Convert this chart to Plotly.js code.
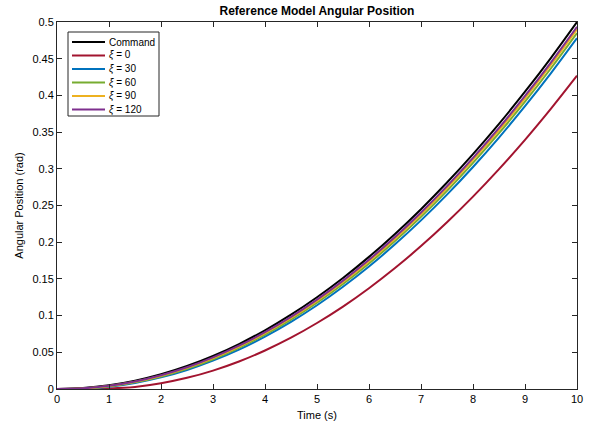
<!DOCTYPE html>
<html>
<head>
<meta charset="utf-8">
<script src="https://cdn.plot.ly/plotly-3.0.1.min.js"></script>
<style>html,body{margin:0;padding:0;background:#fff;}#plot{width:590px;height:425px;}</style>
</head>
<body>
<div id="plot"></div>
<script>
const time = [0,0.5,1,1.5,2,2.5,3,3.5,4,4.5,5,5.5,6,6.5,7,7.5,8,8.5,9,9.5,10];
const command = [0,0.00125,0.005,0.01125,0.02,0.03125,0.045,0.06125,0.08,0.10125,0.125,0.15125,0.18,0.21125,0.245,0.28125,0.32,0.36125,0.405,0.45125,0.5];
const xi0 = [0,0.0002,0.0008,0.0028,0.0078,0.0152,0.0251,0.0375,0.0525,0.0699,0.0899,0.1123,0.1373,0.1648,0.1947,0.2272,0.2621,0.2996,0.3395,0.382,0.4269];
const xi30 = [0,0.0004,0.0030,0.0082,0.0158,0.0259,0.0386,0.0537,0.0714,0.0915,0.1141,0.1393,0.1669,0.1971,0.2297,0.2648,0.3025,0.3426,0.3853,0.4304,0.4780];
const xi60 = [0,0.0006,0.0036,0.0091,0.0171,0.0276,0.0406,0.0561,0.0741,0.0946,0.1176,0.1431,0.1711,0.2015,0.2345,0.2700,0.3080,0.3485,0.3915,0.4370,0.4850];
const xi90 = [0,0.0008,0.0041,0.0098,0.0181,0.0288,0.0421,0.0578,0.0761,0.0968,0.1201,0.1458,0.1741,0.2048,0.2381,0.2738,0.3121,0.3528,0.3961,0.4418,0.4901];
const xi120 = [0,0.0009,0.0044,0.0103,0.0187,0.0296,0.0431,0.0590,0.0774,0.0983,0.1218,0.1477,0.1761,0.2070,0.2405,0.2764,0.3148,0.3557,0.3992,0.4451,0.4935];
const seriesNames = ["Command","<i>ξ</i> = 0","<i>ξ</i> = 30","<i>ξ</i> = 60","<i>ξ</i> = 90","<i>ξ</i> = 120"];
const seriesData = [command, xi0, xi30, xi60, xi90, xi120];
const colors = ["#000000","#A2142F","#0072BD","#77AC30","#EDB120","#7E2F8E"];
const xTicks = [0,1,2,3,4,5,6,7,8,9,10];
const yTicks = [0,0.05,0.1,0.15,0.2,0.25,0.3,0.35,0.4,0.45,0.5];
const yTickText = ["0","0.05","0.1","0.15","0.2","0.25","0.3","0.35","0.4","0.45","0.5"];

const traces = seriesData.map((d,i)=>({
  x: time, y: d, name: seriesNames[i], type:'scatter', mode:'lines', showlegend:false,
  line:{color:colors[i], width:2, shape:'spline', smoothing:1}
}));

// geometry of the plot area (pixels)
const W=590, H=425, ML=57, MR=13, MT=22, MB=36;
const PW=W-ML-MR, PH=H-MT-MB;
const px = v => (v-ML)/PW;          // pixel x -> paper x
const py = v => (H-MB-v)/PH;        // pixel y -> paper y

// manual legend (compact, MATLAB style)
const legLeft=68, legRight=159, legTop=32, legBottom=116, rowTop=42, rowStep=13.5;
const shapes=[{type:'rect', xref:'paper', yref:'paper', x0:px(legLeft), x1:px(legRight), y0:py(legBottom), y1:py(legTop),
  line:{color:'#262626', width:1}, fillcolor:'#fff', layer:'above'}];
const annotations=[];
seriesNames.forEach((n,i)=>{
  const yy = rowTop + i*rowStep;
  shapes.push({type:'line', xref:'paper', yref:'paper', x0:px(72), x1:px(105), y0:py(yy), y1:py(yy),
    line:{color:colors[i], width:2}, layer:'above'});
  annotations.push({xref:'paper', yref:'paper', x:px(107), y:py(yy), text:n, showarrow:false,
    xanchor:'left', yanchor:'middle', font:{size:10, color:'#000'}});
});

const font = "Liberation Sans, Arial, Helvetica, sans-serif";
const layout = {
  width:W, height:H,
  margin:{l:ML, r:MR, t:MT, b:MB},
  paper_bgcolor:'#fff', plot_bgcolor:'#fff',
  font:{family:font, size:11, color:'#000'},
  title:{text:'<b>Reference Model Angular Position</b>', font:{size:12, family:font, color:'#000'}, x:0.5, xanchor:'center', y:0.985, yanchor:'top', xref:'paper'},
  xaxis:{range:[0,10], tickvals:xTicks, ticktext:xTicks.map(String), ticks:'inside', ticklen:5, tickcolor:'#262626',
    showline:true, linecolor:'#262626', linewidth:1, mirror:'ticks', showgrid:false, zeroline:false,
    title:{text:'Time (s)', font:{size:11}, standoff:7}, tickfont:{size:11}},
  yaxis:{range:[0,0.5], tickvals:yTicks, ticktext:yTickText, ticks:'inside', ticklen:5, tickcolor:'#262626',
    showline:true, linecolor:'#262626', linewidth:1, mirror:'ticks', showgrid:false, zeroline:false,
    title:{text:'Angular Position (rad)', font:{size:11}, standoff:6}, tickfont:{size:11}},
  shapes: shapes,
  annotations: annotations,
  showlegend:false
};
Plotly.newPlot('plot', traces, layout, {displayModeBar:false, staticPlot:true});
</script>
</body>
</html>
